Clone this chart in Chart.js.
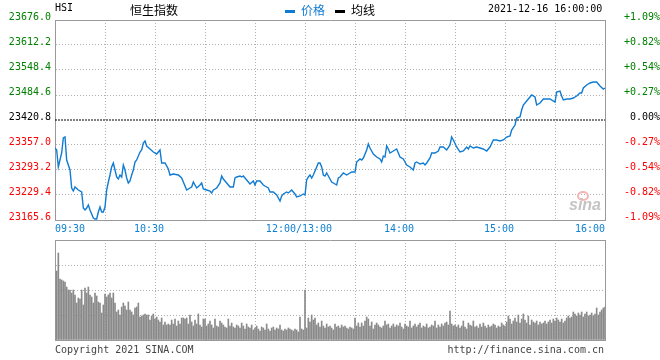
<!DOCTYPE html>
<html><head><meta charset="utf-8">
<script src="https://cdn.jsdelivr.net/npm/chart.js@4/dist/chart.umd.min.js"></script>
<style>
html,body{margin:0;padding:0;background:#fff;}
#wrap{position:relative;width:660px;height:360px;overflow:hidden;font-family:'DejaVu Sans Mono','Liberation Mono',monospace;}
canvas{position:absolute;left:0;}
.t{position:absolute;white-space:nowrap;font-size:10px;line-height:10px;color:#000;}
.cjk{position:absolute;white-space:nowrap;font-family:'Noto Sans CJK SC',sans-serif;font-size:12px;line-height:12px;}
.sw{position:absolute;height:3px;width:10px;}
</style></head><body>
<div id="wrap">
<canvas id="price" width="660" height="240" style="top:0"></canvas>
<canvas id="vol" width="660" height="130" style="top:230px"></canvas>
<div class="t" style="left:55px;top:3px">HSI</div>
<div class="cjk" style="left:130px;top:4px;color:#000">恒生指数</div>
<div class="sw" style="left:285px;top:10px;background:#0f7bd2"></div>
<div class="cjk" style="left:301px;top:4px;color:#0f7bd2">价格</div>
<div class="sw" style="left:335px;top:10px;background:#000"></div>
<div class="cjk" style="left:351px;top:4px;color:#000">均线</div>
<div class="t" style="left:488px;top:4px">2021-12-16 16:00:00</div>
<div style="position:absolute;left:577px;top:191px;width:8px;height:6px;border:2px solid #f4b4b4;border-radius:50%;"></div>
<div style="position:absolute;left:569px;top:197px;font-family:'Liberation Sans',sans-serif;font-weight:bold;font-style:italic;font-size:16px;line-height:16px;color:#c4c4c4;">sina</div>
<div class="t" style="left:55px;top:345px;color:#444">Copyright 2021 SINA.COM</div>
<div class="t" style="right:56px;top:345px;color:#444">http://finance.sina.com.cn</div>
</div>
<script>
// ---- data ----
const basePrice = 23420.8;
const priceTicks = [23676.0, 23612.2, 23548.4, 23484.6, 23420.8, 23357.0, 23293.2, 23229.4, 23165.6];
const pctTicks = ['+1.09%', '+0.82%', '+0.54%', '+0.27%', '0.00%', '-0.27%', '-0.54%', '-0.82%', '-1.09%'];
const timeTicks = [0, 30, 60, 90, 120, 150, 180, 210, 240, 270, 300, 330];
const labelMinutes = [0, 60, 150, 210, 270, 330];
const labelTexts = ['09:30', '10:30', '12:00/13:00', '14:00', '15:00', '16:00'];
const volTicks = [0, 25, 50, 75, 100];

const minutes = [0,1,2,4,5,6,7,9,10,11,12,14,16,17,18,19,20,21,23,24,25,26,27,28,29,30,
31,32,33,34,35,36,37,38,39,40,41,42,43,44,45,46,47,48,49,51,52,53,54,55,57,59,61,62,63,64,66,68,69,71,74,76,77,79,
81,82,83,85,87,88,89,91,93,94,95,97,99,100,101,103,105,107,108,109,111,112,113,115,117,119,120,121,123,125,127,128,129,
131,133,134,135,136,137,139,140,142,144,145,147,149,150,151,152,153,154,155,157,158,159,160,161,162,163,165,166,167,169,
170,171,173,175,176,178,180,181,183,184,185,187,188,189,191,193,195,196,197,198,199,200,201,203,205,207,209,210,211,213,
215,216,217,219,221,222,223,225,226,228,230,231,233,235,237,238,239,241,243,245,247,248,249,251,253,255,257,259,261,263,
265,267,269,271,273,274,276,277,279,280,281,283,285,286,288,289,291,293,295,297,300,301,303,304,305,307,309,311,313,315,
316,317,319,321,323,325,327,329,330];
const prices = [23349.3,23344.2,23300.9,23336.6,23374.9,23377.4,23318.7,23293.2,23247.3,23239.6,23249.8,23242.2,23237.1,
23196.2,23191.1,23196.2,23203.9,23191.1,23170.7,23168.2,23168.2,23186.0,23198.8,23186.0,23186.0,23198.8,
23242.2,23262.6,23280.4,23300.9,23311.1,23293.2,23275.3,23270.2,23280.4,23275.3,23306.0,23293.2,23272.8,23260.0,23265.1,
23280.4,23293.2,23313.6,23318.7,23339.1,23344.2,23362.1,23367.2,23354.5,23346.8,23339.1,23334.0,23339.1,23344.2,23311.1,
23311.1,23295.8,23280.4,23283.0,23280.4,23272.8,23262.6,23242.2,
23247.3,23249.8,23262.6,23247.3,23254.9,23260.0,23244.7,23242.2,23239.6,23234.5,23242.2,23247.3,23260.0,23277.9,23270.2,
23260.0,23249.8,23249.8,23272.8,23275.3,23277.9,23275.3,23277.9,23267.7,23257.5,23265.1,23254.9,23265.1,23265.1,23254.9,
23249.8,23247.3,23237.1,
23237.1,23229.4,23221.7,23214.1,23226.9,23232.0,23237.1,23234.5,23242.2,23232.0,23224.3,23226.9,23232.0,23229.4,23267.7,
23275.3,23280.4,23272.8,23280.4,23300.9,23311.1,23311.1,23300.9,23280.4,23277.9,23285.5,23270.2,23262.6,23260.0,23254.9,
23272.8,23275.3,23285.5,23280.4,23283.0,23288.1,23288.1,23313.6,23321.3,23318.7,23323.8,23344.2,23359.6,23349.3,23334.0,
23326.4,23321.3,23313.6,23328.9,23326.4,23354.5,23346.8,23336.6,23341.7,23346.8,23326.4,23321.3,23313.6,23306.0,23300.9,
23293.2,23311.1,23313.6,23308.5,23311.1,23306.0,23311.1,23323.8,23336.6,23336.6,23341.7,23351.9,23351.9,23344.2,23357.0,
23377.4,23369.8,23351.9,23339.1,23341.7,23351.9,23346.8,23354.5,23349.3,23351.9,23349.3,23346.8,23341.7,23351.9,23369.8,
23369.8,23367.2,23369.8,23377.4,23380.0,23395.3,23408.0,23425.9,23428.5,23446.3,23459.1,23469.3,23479.5,23484.6,23479.5,
23459.1,23464.2,23474.4,23474.4,23474.4,23466.7,23492.3,23494.8,23482.0,23471.8,23474.4,23474.4,23476.9,23482.0,23489.7,
23489.7,23502.5,23510.1,23515.2,23517.8,23517.8,23507.6,23499.9,23502.5];

// volume per minute (relative units, minutes 1..330)
const volumes = [
69,87,61,60,59,58,53,50,50,47, 50,45,37,42,41,50,35,52,47,53, 45,43,37,47,44,38,37,27,35,46,
43,45,47,42,47,37,28,30,25,33, 37,34,30,38,30,28,25,32,33,37, 23,24,25,26,25,25,20,24,26,21,
23,20,18,22,15,18,15,16,15,20, 16,21,14,19,16,22,22,21,22,16, 25,18,14,20,16,26,15,13,21,21,
14,16,19,15,12,21,14,13,19,17, 15,13,12,21,14,17,13,12,15,14, 12,17,14,11,16,13,12,15,10,12,
14,11,9,13,12,10,16,11,9,12, 13,10,12,11,15,10,9,11,10,12, 11,10,9,11,10,8,23,11,10,50,
12,22,18,25,20,22,15,17,13,19, 14,12,16,13,14,12,10,16,13,14, 12,15,13,14,12,11,13,12,11,22,
14,17,13,17,14,19,23,21,14,18, 11,15,17,15,13,12,14,19,15,16, 12,14,16,13,15,14,17,13,11,16,
14,13,19,12,14,16,13,15,17,12, 14,13,16,12,13,15,14,19,12,15, 13,16,14,17,18,15,29,16,14,15,
13,15,12,14,19,13,11,17,15,14, 19,13,14,12,16,13,17,14,12,15, 13,14,16,15,12,14,13,17,15,14,
18,24,21,16,19,22,18,25,17,21, 26,20,17,24,15,20,18,17,19,15, 18,16,17,19,16,18,20,17,21,19,
22,20,18,21,17,19,22,24,22,23, 28,26,24,27,25,28,23,26,28,24, 25,27,24,26,32,25,28,30,32,33];

// ---- styling ----
const MONO = "'DejaVu Sans Mono','Liberation Mono',monospace";
const GRID = '#b0b0b0', FRAME = '#999999';
const LINE = '#0f7bd2', XLAB = '#1180d0';
const GREEN = '#008000', RED = '#ff0000';

const setW = w => s => { s.width = w; };
const setH = h => s => { s.height = h; };
const tickColor = v => v > basePrice + 0.01 ? GREEN : (v < basePrice - 0.01 ? RED : '#000');

const common = {
  responsive: false, animation: false, devicePixelRatio: 1,
  layout: { padding: 0 },
  plugins: { legend: { display: false }, tooltip: { enabled: false } },
  events: []
};

new Chart(document.getElementById('price'), {
  type: 'line',
  data: { datasets: [
    { data: [{x: 0, y: basePrice}, {x: 330, y: basePrice}], borderColor: '#000', borderWidth: 1,
      borderDash: [2, 1], pointRadius: 0, order: 2 },
    { data: minutes.map((m, i) => ({x: m, y: prices[i]})), borderColor: LINE, borderWidth: 1.4,
      pointRadius: 0, tension: 0, order: 1 }
  ]},
  options: Object.assign({}, common, {
    scales: {
      x: { type: 'linear', position: 'bottom', min: 0, max: 330, afterFit: setH(20),
        afterBuildTicks: s => { s.ticks = timeTicks.map(v => ({value: v})); },
        grid: { color: GRID, drawTicks: false },
        border: { color: FRAME, dash: [1, 2] },
        ticks: { autoSkip: false, maxRotation: 0, minRotation: 0, align: 'inner', padding: 3,
          color: XLAB, font: { family: MONO, size: 10 },
          callback: v => {
            const i = labelMinutes.indexOf(v);
            if (i < 0) return '';
            return (i > 0 && i < labelMinutes.length - 1) ? labelTexts[i] + '  ' : labelTexts[i];
          } } },
      xTop: { type: 'linear', position: 'top', min: 0, max: 330, afterFit: setH(20),
        ticks: { display: false }, grid: { display: false }, border: { color: FRAME } },
      y: { type: 'linear', position: 'left', min: priceTicks[8], max: priceTicks[0], afterFit: setW(55),
        afterBuildTicks: s => { s.ticks = priceTicks.slice().reverse().map(v => ({value: v})); },
        grid: { color: c => (c.tick && Math.abs(c.tick.value - basePrice) < 0.01) ? 'rgba(0,0,0,0)' : GRID, drawTicks: false },
        border: { color: FRAME, dash: [1, 2] },
        ticks: { padding: 4, labelOffset: -3, font: { family: MONO, size: 10 },
          color: c => tickColor(c.tick.value),
          callback: v => v.toFixed(1) } },
      y2: { type: 'linear', position: 'right', min: priceTicks[8], max: priceTicks[0], afterFit: setW(55),
        afterBuildTicks: s => { s.ticks = priceTicks.slice().reverse().map(v => ({value: v})); },
        grid: { display: false, drawTicks: false }, border: { color: FRAME },
        ticks: { padding: 1, crossAlign: 'far', labelOffset: -3, font: { family: MONO, size: 10 },
          color: c => tickColor(c.tick.value),
          callback: v => pctTicks[priceTicks.indexOf(v)] } }
    }
  })
});

new Chart(document.getElementById('vol'), {
  type: 'bar',
  data: { datasets: [
    { data: volumes.map((v, i) => ({x: i + 1, y: v})), backgroundColor: '#8a8a8a', borderWidth: 0, barThickness: 1 }
  ]},
  options: Object.assign({}, common, {
    scales: {
      x: { type: 'linear', position: 'bottom', min: 0, max: 330, offset: false, afterFit: setH(20),
        afterBuildTicks: s => { s.ticks = timeTicks.map(v => ({value: v})); },
        grid: { color: GRID, drawTicks: false, offset: false },
        border: { color: FRAME, dash: [1, 2] },
        ticks: { display: false } },
      xTop: { type: 'linear', position: 'top', min: 0, max: 330, afterFit: setH(10),
        ticks: { display: false }, grid: { display: false }, border: { color: FRAME } },
      y: { type: 'linear', position: 'left', min: 0, max: 100, afterFit: setW(55),
        afterBuildTicks: s => { s.ticks = volTicks.map(v => ({value: v})); },
        grid: { color: GRID, drawTicks: false }, border: { color: FRAME, dash: [1, 2] },
        ticks: { display: false } },
      y2: { type: 'linear', position: 'right', min: 0, max: 100, afterFit: setW(55),
        ticks: { display: false }, grid: { display: false }, border: { color: FRAME } }
    }
  })
});
</script>
</body></html>
